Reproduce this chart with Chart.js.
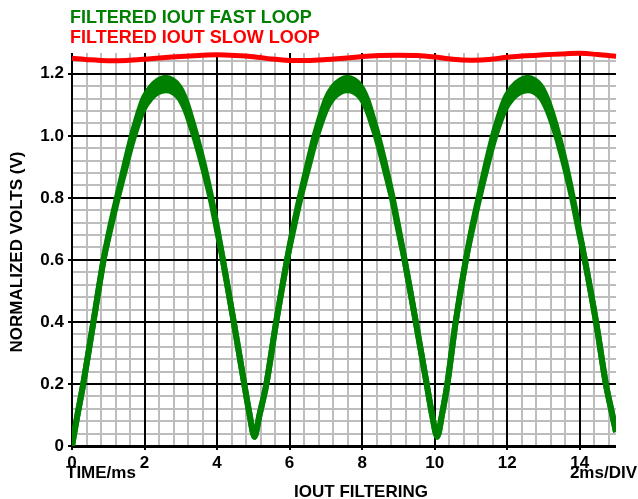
<!DOCTYPE html>
<html lang="en">
<head>
  <meta charset="UTF-8">
  <title>IOUT Filtering</title>
  <script src="https://cdn.jsdelivr.net/npm/chart.js"></script>
  <style>
    body { margin: 0; padding: 0; background: #fff; }
    .wrap { position: relative; width: 638px; height: 499px; }
  </style>
</head>
<body>
  <div class="wrap">
    <canvas id="chart"></canvas>
  </div>
  <script>
    // fast loop trace: time (ms), top and bottom edge of the ripple band (V)
    const fastTime = [
      0, 0.15, 0.31, 0.59, 0.87, 1.05, 1.25, 1.46, 1.68, 1.96, 2.18, 2.38, 2.58, 2.78, 2.96, 3.13, 3.27, 3.4, 3.63, 3.83, 4.0, 4.16, 4.46, 4.75, 4.9, 5.03,
      5.17, 5.36, 5.63, 5.93, 6.1, 6.29, 6.5, 6.72, 7.0, 7.2, 7.4, 7.59, 7.79, 7.97, 8.14, 8.28, 8.41, 8.63, 8.83, 9.0, 9.17, 9.48, 9.78, 9.93, 10.07,
      10.2, 10.35, 10.58, 10.86, 11.03, 11.22, 11.42, 11.64, 11.93, 12.15, 12.36, 12.56, 12.76, 12.94, 13.11, 13.26, 13.39, 13.61, 13.8, 13.97, 14.14, 14.45, 14.72, 14.9, 15.0
    ];
    const fastUpper = [
      0, 0.1, 0.2, 0.4, 0.6, 0.705, 0.806, 0.91, 1.013, 1.117, 1.158, 1.179, 1.187, 1.179, 1.158, 1.117, 1.065, 1.013, 0.91, 0.806, 0.705, 0.6, 0.4, 0.2, 0.1, 0.03,
      0.1, 0.2, 0.4, 0.6, 0.705, 0.806, 0.91, 1.013, 1.117, 1.158, 1.179, 1.187, 1.179, 1.158, 1.117, 1.065, 1.013, 0.91, 0.806, 0.705, 0.6, 0.4, 0.2, 0.1, 0.03,
      0.1, 0.2, 0.4, 0.6, 0.705, 0.806, 0.91, 1.013, 1.117, 1.158, 1.179, 1.187, 1.179, 1.158, 1.117, 1.065, 1.013, 0.91, 0.806, 0.705, 0.6, 0.4, 0.2, 0.1, 0.045
    ];
    const fastLower = [
      0, 0.1, 0.2, 0.4, 0.6, 0.695, 0.794, 0.89, 0.987, 1.083, 1.122, 1.141, 1.147, 1.141, 1.122, 1.083, 1.035, 0.987, 0.89, 0.794, 0.695, 0.6, 0.4, 0.2, 0.1, 0.03,
      0.1, 0.2, 0.4, 0.6, 0.695, 0.794, 0.89, 0.987, 1.083, 1.122, 1.141, 1.147, 1.141, 1.122, 1.083, 1.035, 0.987, 0.89, 0.794, 0.695, 0.6, 0.4, 0.2, 0.1, 0.03,
      0.1, 0.2, 0.4, 0.6, 0.695, 0.794, 0.89, 0.987, 1.083, 1.122, 1.141, 1.147, 1.141, 1.122, 1.083, 1.035, 0.987, 0.89, 0.794, 0.695, 0.6, 0.4, 0.2, 0.1, 0.045
    ];

    // slow loop trace
    const slowTime = [0, 0.5, 1, 1.5, 2, 2.5, 3, 3.5, 4, 4.5, 5, 5.5, 6, 6.5, 7, 7.5, 8, 8.5, 9, 9.5, 10, 10.5, 11, 11.5, 12, 12.5, 13, 13.5, 14, 14.5, 15];
    const slowValues = [1.250, 1.245, 1.242, 1.243, 1.247, 1.252, 1.256, 1.259, 1.261, 1.259, 1.255, 1.248, 1.243, 1.243, 1.246, 1.250, 1.256, 1.259, 1.260, 1.259, 1.254, 1.247, 1.244, 1.246, 1.253, 1.258, 1.261, 1.264, 1.266, 1.262, 1.256];

    // grid: minor divisions, labelled every 5th line
    const xMinorStep = 0.4;
    const yMinorStep = 0.04;
    const xLabels = ['0', '2', '4', '6', '8', '10', '12', '14'];
    const yLabels = ['0', '0.2', '0.4', '0.6', '0.8', '1.0', '1.2'];

    const legendLines = [
      { text: 'FILTERED IOUT FAST LOOP', color: '#008000' },
      { text: 'FILTERED IOUT SLOW LOOP', color: '#ff0000' }
    ];

    const FONT = '"Liberation Sans", Arial, sans-serif';
    const GREEN = '#008000';
    const RED = '#ff0000';
    const MINOR = '#bdbdbd';

    const toPoints = (xs, ys) => xs.map((x, i) => ({ x: x, y: ys[i] }));

    // one tick per minor grid line; every 5th one is a major (labelled) line
    function gridTicks(scale, step, labels) {
      const ticks = [];
      for (let i = 0; i * step <= scale.max + 1e-9; i++) {
        const major = i % 5 === 0;
        ticks.push({ value: Math.round(i * step * 1000) / 1000, major: major, label: major ? (labels[i / 5] || '') : '' });
      }
      scale.ticks = ticks;
    }

    // grid drawn from the scale ticks: gray minors first, black majors on top
    function strokeGrid(chart, major) {
      const { ctx, chartArea: a, scales: { x, y } } = chart;
      ctx.strokeStyle = major ? '#000' : MINOR;
      ctx.lineWidth = 2;
      ctx.beginPath();
      x.ticks.forEach(t => {
        if (t.major !== major) return;
        const px = Math.round(x.getPixelForValue(t.value));
        ctx.moveTo(px, a.top); ctx.lineTo(px, a.bottom);
        if (major) { ctx.moveTo(px, a.bottom); ctx.lineTo(px, a.bottom + 4); }
      });
      y.ticks.forEach(t => {
        if (t.major !== major) return;
        const py = Math.round(y.getPixelForValue(t.value));
        ctx.moveTo(a.left, py); ctx.lineTo(a.right, py);
        if (major) { ctx.moveTo(a.left - 4, py); ctx.lineTo(a.left, py); }
      });
      ctx.stroke();
    }

    const decor = {
      id: 'decor',
      beforeDatasetsDraw(chart) {
        const { ctx, chartArea: a } = chart;
        ctx.save();
        strokeGrid(chart, false);
        strokeGrid(chart, true);
        ctx.strokeStyle = '#000';
        ctx.lineWidth = 2;
        ctx.beginPath();
        ctx.moveTo(a.left, a.top); ctx.lineTo(a.left, a.bottom + 1); ctx.lineTo(a.right, a.bottom + 1);
        ctx.stroke();
        ctx.restore();
      },
      afterDraw(chart) {
        const { ctx } = chart;
        ctx.save();
        ctx.font = 'bold 18px ' + FONT;
        ctx.textAlign = 'left';
        ctx.textBaseline = 'alphabetic';
        legendLines.forEach((l, i) => {
          ctx.fillStyle = l.color;
          ctx.fillText(l.text, 70, 23 + i * 20);
        });
        ctx.fillStyle = '#000';
        ctx.font = 'bold 17px ' + FONT;
        ctx.fillText('TIME/ms', 66, 478);
        ctx.textAlign = 'right';
        ctx.fillText('2ms/DIV', 637, 478);
        ctx.textAlign = 'center';
        ctx.fillText('IOUT FILTERING', 361, 497);
        ctx.translate(22, 252);
        ctx.rotate(-Math.PI / 2);
        ctx.fillText('NORMALIZED VOLTS (V)', 0, 0);
        ctx.restore();
      }
    };

    const traceStyle = { pointRadius: 0, tension: 0.3 };

    new Chart(document.getElementById('chart'), {
      type: 'line',
      data: {
        datasets: [
          Object.assign({
            label: 'fast upper',
            data: toPoints(fastTime, fastUpper),
            borderColor: GREEN,
            backgroundColor: GREEN,
            borderWidth: 6,
            fill: '+1'
          }, traceStyle),
          Object.assign({
            label: 'fast lower',
            data: toPoints(fastTime, fastLower),
            borderColor: GREEN,
            borderWidth: 6,
            fill: false
          }, traceStyle),
          Object.assign({
            label: 'slow',
            data: toPoints(slowTime, slowValues),
            borderColor: RED,
            borderWidth: 5,
            fill: false,
            clip: false
          }, traceStyle)
        ]
      },
      options: {
        responsive: true,
        maintainAspectRatio: false,
        animation: false,
        layout: { padding: { top: 53, right: 22, left: 0, bottom: 0 } },
        plugins: {
          legend: { display: false },
          tooltip: { enabled: false },
          title: { display: false }
        },
        scales: {
          x: {
            type: 'linear',
            min: 0,
            max: 15,
            afterBuildTicks: s => gridTicks(s, xMinorStep, xLabels),
            afterFit: s => { s.height = 53; },
            border: { display: false },
            grid: { display: false, drawTicks: false },
            ticks: {
              autoSkip: false,
              maxRotation: 0,
              padding: 7,
              color: '#000',
              font: { family: FONT, size: 17, weight: 'bold' },
              callback: (v, i, ticks) => ticks[i].label
            }
          },
          y: {
            min: 0,
            max: 1.267,
            afterBuildTicks: s => gridTicks(s, yMinorStep, yLabels),
            afterFit: s => { s.width = 72; },
            border: { display: false },
            grid: { display: false, drawTicks: false },
            ticks: {
              autoSkip: false,
              padding: 8,
              color: '#000',
              font: { family: FONT, size: 17, weight: 'bold' },
              callback: (v, i, ticks) => ticks[i].label
            }
          }
        }
      },
      plugins: [decor]
    });
  </script>
</body>
</html>
